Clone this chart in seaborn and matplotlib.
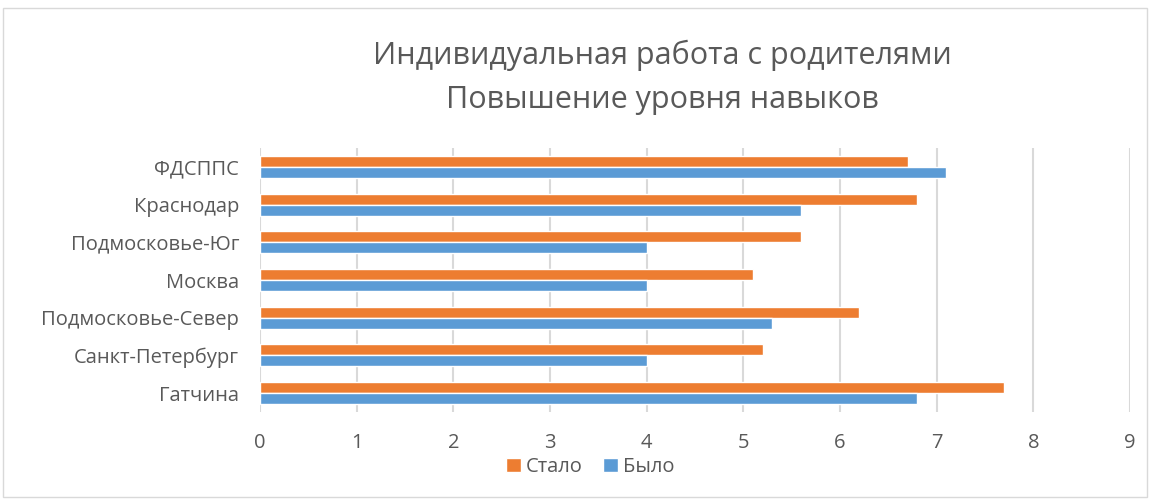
import pandas as pd
import matplotlib.pyplot as plt
import seaborn as sns
from matplotlib.patches import Rectangle

# data, top to bottom
regions = ["ФДСППС", "Краснодар", "Подмосковье-Юг", "Москва",
           "Подмосковье-Север", "Санкт-Петербург", "Гатчина"]
after = [6.7, 6.8, 5.6, 5.1, 6.2, 5.2, 7.7]   # Стало
before = [7.1, 5.6, 4.0, 4.0, 5.3, 4.0, 6.8]  # Было
series = ["Стало", "Было"]
x_ticks = list(range(0, 10))

title_lines = ["Индивидуальная работа с родителями", "Повышение уровня навыков"]

TEXT = "#595959"
GRID = "#D9D9D9"
palette = {"Стало": "#ED7D31", "Было": "#5B9BD5"}

df = pd.DataFrame({
    "region": regions * 2,
    "value": after + before,
    "series": ["Стало"] * len(regions) + ["Было"] * len(regions),
})

sns.set_theme(style="white")
plt.rcParams["font.family"] = ["Open Sans", "DejaVu Sans"]

fig = plt.figure(figsize=(11.5, 5), dpi=100)
ax = fig.add_axes([0.226, 0.176, 0.7566, 0.528])

sns.barplot(data=df, y="region", x="value", hue="series", hue_order=series,
            order=regions, palette=palette, orient="h", width=0.58,
            saturation=1, ax=ax, legend=True)

ax.set_xlim(0, 9)
ax.set_xticks(x_ticks)
ax.xaxis.grid(True, color=GRID, linewidth=1.5)
ax.set_axisbelow(True)
for s in ax.spines.values():
    s.set_visible(False)
ax.set_xlabel("")
ax.set_ylabel("")
ax.tick_params(axis="both", length=0, labelsize=14.5, labelcolor=TEXT)
ax.tick_params(axis="x", pad=15)
ax.tick_params(axis="y", pad=15)

leg = ax.legend(loc="center", bbox_to_anchor=(0.513, 0.066),
                bbox_transform=fig.transFigure, ncol=2, frameon=False,
                fontsize=14.5, handlelength=0.75, handleheight=0.75,
                handletextpad=0.25, columnspacing=1.0)
for t in leg.get_texts():
    t.set_color(TEXT)

fig.text(0.576, 0.89, title_lines[0], ha="center", va="center",
         fontsize=22, color=TEXT)
fig.text(0.576, 0.80, title_lines[1], ha="center", va="center",
         fontsize=22, color=TEXT)

# thin outer frame like the office chart area
fig.patches.append(Rectangle((0.003, 0.006), 0.994, 0.978, transform=fig.transFigure,
                             fill=False, edgecolor=GRID, linewidth=1))

fig.savefig("out.png", dpi=100)
